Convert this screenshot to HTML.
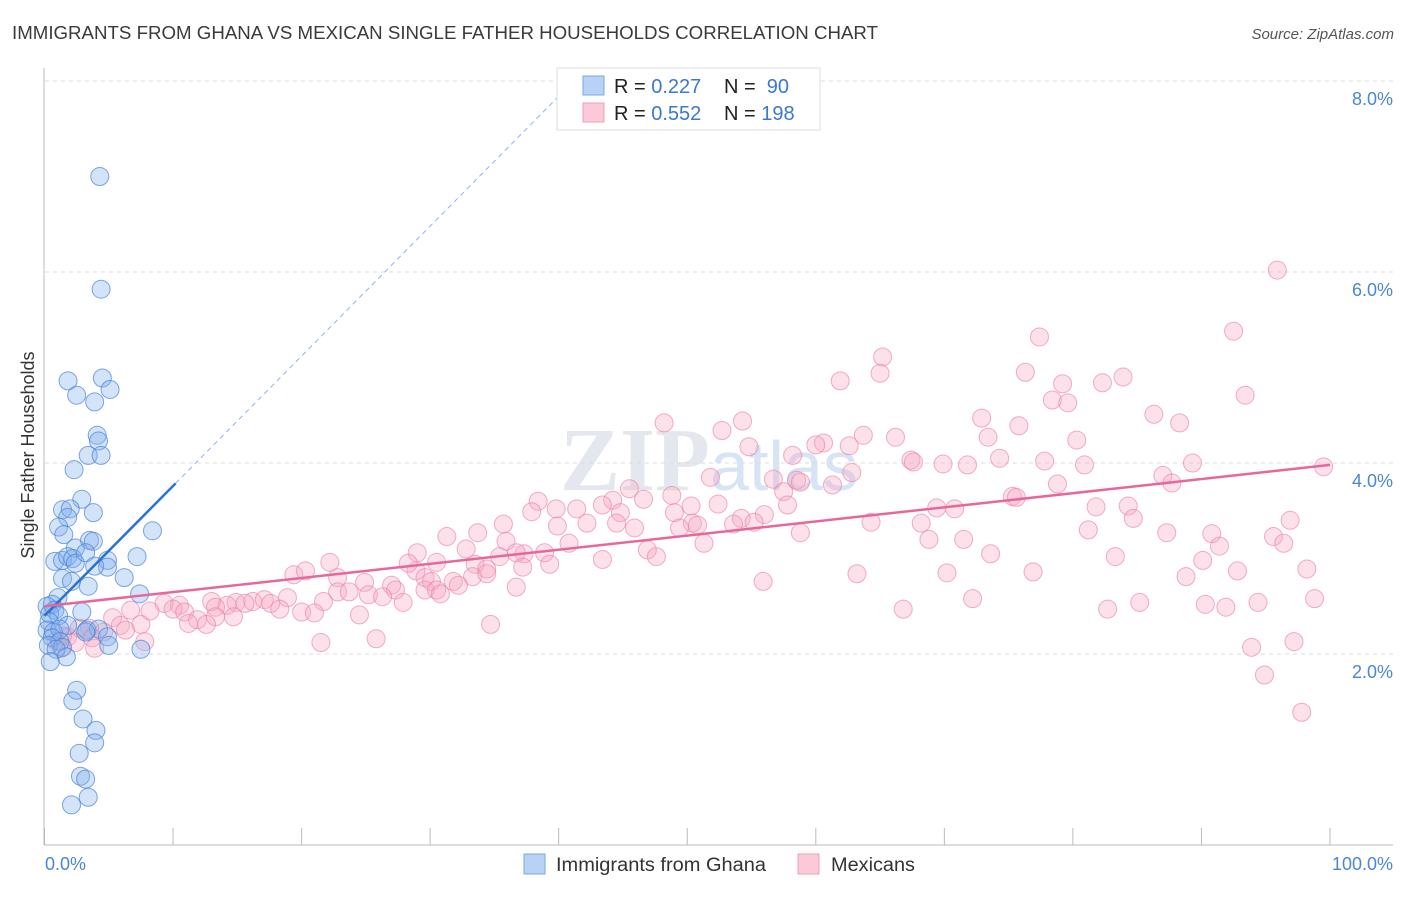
<!DOCTYPE html>
<html><head><meta charset="utf-8"><style>
body{margin:0;background:#fff;font-family:"Liberation Sans",sans-serif}
</style></head><body>
<svg id="c" width="1406" height="892" xmlns="http://www.w3.org/2000/svg" font-family="Liberation Sans, sans-serif">
<text x="12" y="39" font-size="18" fill="#3a3a3a" textLength="866" lengthAdjust="spacingAndGlyphs">IMMIGRANTS FROM GHANA VS MEXICAN SINGLE FATHER HOUSEHOLDS CORRELATION CHART</text>
<text x="1394" y="39" font-size="15" fill="#555" font-style="italic" text-anchor="end">Source: ZipAtlas.com</text>
<text x="560" y="490" font-size="90" fill="#e4e8ee" font-family="Liberation Serif, serif" font-weight="bold">ZIP<tspan fill="#d6e4f5" font-family="Liberation Sans, sans-serif" font-weight="normal" font-size="70">atlas</tspan></text>
<g id="grid"></g>
<g id="pts"></g>
<g id="trend"></g>
<text transform="translate(34,455) rotate(-90)" font-size="18" fill="#333" text-anchor="middle">Single Father Households</text>
<g>
<rect x="557" y="68" width="263" height="62" fill="#fff" stroke="#ddd"/>
<rect x="583" y="76" width="21" height="19" fill="#b8d2f5" stroke="#7aa8e8"/>
<rect x="583" y="103" width="21" height="19" fill="#fcc9d8" stroke="#f0a0b8"/>
<text x="614" y="93" font-size="20" fill="#222">R = <tspan fill="#3a78d4">0.227</tspan></text>
<text x="724" y="93" font-size="20" fill="#222">N = <tspan fill="#3a78d4">&#160;90</tspan></text>
<text x="614" y="120" font-size="20" fill="#222">R = <tspan fill="#3a78d4">0.552</tspan></text>
<text x="724" y="120" font-size="20" fill="#222">N = <tspan fill="#3a78d4">198</tspan></text>
</g>
<g>
<rect x="524" y="854" width="21" height="20" fill="#b8d2f5" stroke="#7aa8e8"/>
<text x="556" y="871" font-size="19" fill="#333" textLength="210" lengthAdjust="spacingAndGlyphs">Immigrants from Ghana</text>
<rect x="798" y="854" width="21" height="20" fill="#fcc9d8" stroke="#f0a0b8"/>
<text x="831" y="871" font-size="19" fill="#333" textLength="84" lengthAdjust="spacingAndGlyphs">Mexicans</text>
</g>
</svg>
<script>
const yTicks=[2,4,6,8];
const yTickLabels=["2.0%","4.0%","6.0%","8.0%"];
const xTicks=[0,10,20,30,40,50,60,70,80,90,100];
const xEndLabels=["0.0%","100.0%"];
const ghanaX=[4.3,4.4,1.83,4.5,5.1,2.5,3.9,4.1,4.2,3.4,4.4,2.3,2.9,1.4,2.0,3.8,1.8,8.4,1.1,1.5,3.5,3.8,2.4,7.2,0.8,1.4,1.8,2.2,2.4,3.2,4.9,4.9,3.9,6.2,1.4,2.1,3.4,7.4,1.05,0.6,0.2,0.8,0.4,1.1,2.9,0.35,1.8,0.2,0.7,1.2,3.3,4.2,3.2,4.9,0.6,1.2,0.3,5.0,1.4,0.9,7.5,1.7,0.45,2.5,2.2,3.0,4.0,3.9,2.7,2.8,3.2,3.4,2.1];
const ghanaY=[7.0,5.82,4.86,4.89,4.77,4.71,4.64,4.29,4.23,4.08,4.08,3.93,3.62,3.51,3.52,3.48,3.43,3.29,3.33,3.25,3.19,3.18,3.11,3.02,2.97,2.98,3.02,3.0,2.95,3.06,2.98,2.91,2.92,2.8,2.79,2.76,2.71,2.63,2.59,2.52,2.5,2.46,2.42,2.4,2.44,2.34,2.3,2.25,2.23,2.26,2.25,2.26,2.23,2.18,2.17,2.13,2.09,2.09,2.07,2.05,2.05,1.97,1.92,1.62,1.51,1.32,1.2,1.07,0.96,0.72,0.69,0.5,0.42];
const mexX=[95.9,92.5,77.4,65.2,76.3,65.0,61.9,79.2,83.9,82.3,93.4,78.4,79.6,86.3,72.9,88.3,48.2,54.3,75.8,52.7,63.7,66.2,73.4,60.6,54.8,80.3,60.0,62.6,58.2,67.4,67.6,69.9,71.8,74.3,77.8,80.9,89.3,99.5,62.8,87.0,51.8,56.7,58.5,58.8,61.3,87.7,78.8,45.5,44.2,43.4,38.4,46.6,48.8,50.3,52.4,57.5,57.8,69.4,70.8,75.3,75.6,84.3,81.8,39.8,37.9,41.4,44.8,49.0,50.4,56.0,54.2,45.9,50.8,55.2,42.2,39.9,44.5,49.4,53.6,64.3,68.2,84.7,96.9,35.7,33.7,31.3,35.9,37.3,36.7,40.8,58.8,81.2,87.3,90.8,95.6,51.3,68.8,71.5,96.4,91.4,22.2,32.8,29.0,35.4,38.9,39.3,46.9,47.6,43.4,73.6,83.3,90.1,33.5,34.4,28.9,28.3,30.5,37.2,19.4,20.3,22.8,24.9,27.0,29.6,30.1,31.8,33.3,34.4,22.8,23.7,25.2,27.3,29.6,30.5,30.8,32.2,36.7,55.9,70.2,76.9,63.2,88.8,92.8,98.2,13.0,14.9,16.2,17.1,18.9,14.2,15.6,17.6,13.3,9.3,10.5,21.7,26.3,27.9,72.2,85.2,82.7,90.3,94.4,98.8,66.8,91.9,6.7,8.2,10.0,10.9,18.3,20.0,21.0,24.5,5.3,5.9,7.5,11.9,13.3,14.7,11.2,12.6,34.7,6.3,4.6,2.7,3.5,1.8,2.4,3.7,7.8,0.9,1.4,25.8,21.5,93.9,97.2,94.9,97.8,3.9,1.3];
const mexY=[6.02,5.38,5.32,5.11,4.95,4.94,4.86,4.83,4.90,4.84,4.71,4.66,4.63,4.51,4.47,4.42,4.42,4.44,4.39,4.34,4.29,4.27,4.27,4.21,4.17,4.24,4.19,4.18,4.08,4.03,4.01,3.99,3.98,4.05,4.02,3.98,4.0,3.96,3.90,3.87,3.85,3.83,3.82,3.80,3.77,3.79,3.78,3.73,3.61,3.56,3.60,3.62,3.66,3.55,3.57,3.70,3.56,3.53,3.52,3.65,3.64,3.55,3.54,3.52,3.49,3.52,3.48,3.48,3.37,3.46,3.42,3.32,3.35,3.38,3.37,3.34,3.37,3.32,3.36,3.38,3.37,3.42,3.40,3.36,3.27,3.23,3.18,3.05,3.06,3.16,3.27,3.30,3.27,3.26,3.23,3.16,3.20,3.20,3.16,3.13,2.96,3.10,3.06,3.02,3.06,2.94,3.09,3.02,2.99,3.05,3.02,2.98,2.94,2.89,2.87,2.95,2.96,2.91,2.83,2.87,2.80,2.75,2.72,2.80,2.76,2.76,2.81,2.84,2.65,2.65,2.62,2.67,2.67,2.67,2.63,2.72,2.70,2.76,2.85,2.86,2.84,2.81,2.87,2.89,2.55,2.54,2.55,2.57,2.59,2.51,2.53,2.53,2.49,2.53,2.51,2.55,2.60,2.54,2.58,2.54,2.47,2.52,2.54,2.58,2.47,2.49,2.46,2.45,2.47,2.44,2.47,2.44,2.43,2.41,2.38,2.30,2.31,2.36,2.39,2.39,2.32,2.31,2.31,2.25,2.23,2.27,2.27,2.18,2.12,2.17,2.13,2.14,2.19,2.16,2.12,2.07,2.13,1.78,1.39,2.06,2.06];
const ghanaTrend=[2.40,0.136];
const mexTrend=[2.50,0.0148];

const NS="http://www.w3.org/2000/svg";
const X0=44.5,X1=1330,Y0=845,YPER=95.5;
const sx=v=>X0+(X1-X0)*v/100;
const sy=v=>Y0-v*YPER;
function mk(tag,attrs,parent){const e=document.createElementNS(NS,tag);for(const k in attrs)e.setAttribute(k,attrs[k]);parent.appendChild(e);return e;}
const grid=document.getElementById('grid');
yTicks.forEach((t,i)=>{
  const l=mk('line',{x1:45,x2:1393,y1:sy(t),y2:sy(t),stroke:'#ddd','stroke-dasharray':'4,4'},grid);
  
  
  const tx=mk('text',{x:1393,y:sy(t)+24,'font-size':18,fill:'#4a86d8','text-anchor':'end'},grid);
  tx.textContent=yTickLabels[i];
  
  
});
const ax=mk('line',{x1:44,x2:1393,y1:845,y2:845,stroke:'#bbb'},grid);


const ay=mk('line',{x1:44,x2:44,y1:68,y2:845,stroke:'#bbb'},grid);


xTicks.forEach(t=>{
  const l=mk('line',{x1:sx(t),x2:sx(t),y1:828,y2:845,stroke:'#bbb'},grid);
  
  
});
const xl0=mk('text',{x:45,y:870,'font-size':18,fill:'#4a86d8'},grid);
xl0.textContent=xEndLabels[0];


const xl1=mk('text',{x:1393,y:870,'font-size':18,fill:'#4a86d8','text-anchor':'end'},grid);
xl1.textContent=xEndLabels[1];



const pts=document.getElementById('pts');
mexX.forEach((x,i)=>{
  const c=mk('circle',{cx:sx(x),cy:sy(mexY[i]),r:9,fill:'rgba(246,170,195,0.35)',stroke:'rgba(236,130,165,0.65)','stroke-width':1},pts);
  
  
});
ghanaX.forEach((x,i)=>{
  const c=mk('circle',{cx:sx(x),cy:sy(ghanaY[i]),r:9,fill:'rgba(130,175,235,0.35)',stroke:'rgba(70,130,220,0.7)','stroke-width':1},pts);
  
  
});
const tr=document.getElementById('trend');
const gEnd=10.2, gTop=(8.0-ghanaTrend[0])/ghanaTrend[1];
const gs=mk('line',{x1:sx(0),y1:sy(ghanaTrend[0]),x2:sx(gEnd),y2:sy(ghanaTrend[0]+ghanaTrend[1]*gEnd),stroke:'#2a72d6','stroke-width':2.5},tr);


const gd=mk('line',{x1:sx(gEnd),y1:sy(ghanaTrend[0]+ghanaTrend[1]*gEnd),x2:sx(gTop),y2:sy(8.0),stroke:'#8fb4e8','stroke-width':1,'stroke-dasharray':'5,4'},tr);


const ms=mk('line',{x1:sx(0),y1:sy(mexTrend[0]),x2:sx(100),y2:sy(mexTrend[0]+mexTrend[1]*100),stroke:'#e8679a','stroke-width':2.5},tr);


</script>
</body></html>
